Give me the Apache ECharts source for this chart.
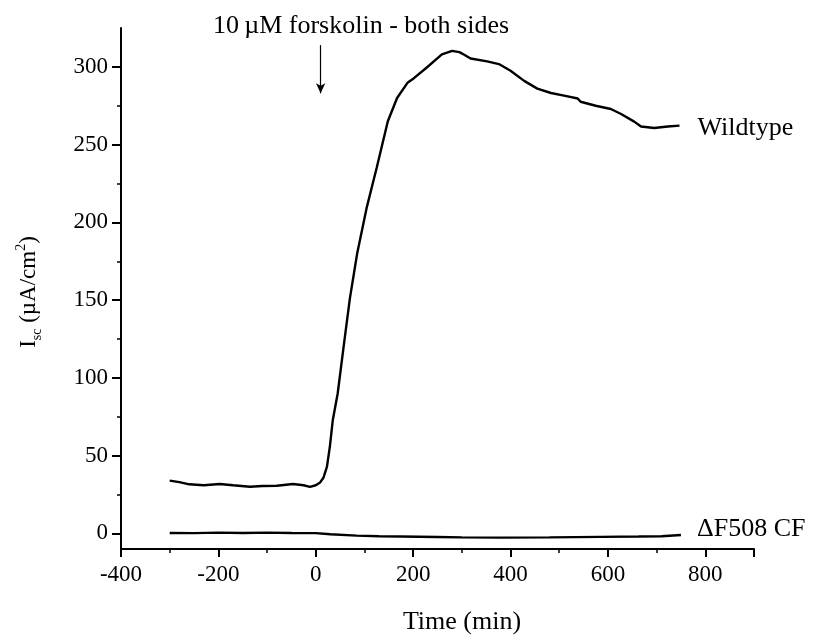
<!DOCTYPE html>
<html>
<head>
<meta charset="utf-8">
<script src="https://cdn.jsdelivr.net/npm/echarts@6/dist/echarts.min.js"></script>
<style>html,body{margin:0;padding:0;background:#fff;}#c{width:814px;height:640px;}</style>
</head>
<body>
<div id="c"></div>
<script>
// Data (time in min, Isc in µA/cm²)
var wildtypeTime = [-300,-280,-260,-230,-197,-170,-135,-110,-80,-47,-25,-12,0,9,16,23,29,35,45,58,70,85,105,125,148,167,189,201,228,259,280,295,304,318,352,376,400,428,455,483,510,538,544,575,606,627,654,668,695,723,747];
var wildtypeIsc  = [34,33,31.6,31,31.8,31,30,30.5,30.7,31.8,31,30,31,32.8,36,43,56,73,90,122,151,180,210,235,265,280,290,292.6,299.6,308,310.3,309.5,308,305.4,303.5,301.8,297.5,291,286,283.2,281.5,279.7,277.6,275,272.9,269.7,264.8,261.7,260.7,261.7,262.2];
var cfTime = [-300,-250,-200,-150,-100,-50,0,30,84,130,174,250,300,380,480,585,663,710,750];
var cfIsc  = [0.3,0.2,0.5,0.3,0.5,0.3,0.2,-0.5,-1.4,-1.8,-2,-2.3,-2.5,-2.7,-2.5,-2.2,-2,-1.8,-1];
var seriesNames = ['Wildtype', '\u0394F508 CF'];
var xTicks = [-400,-200,0,200,400,600,800];
var yTicks = [0,50,100,150,200,250,300];
var yMinorTicks = [25,75,125,175,225,275];
var arrowTime = 10, arrowFrom = 314, arrowTo = 283;
var annotationText = '10\u2009\u00b5M forskolin - both sides';
var xTitle = 'Time (min)';

function zip(a,b){ return a.map(function(v,i){ return [v,b[i]]; }); }

var FONT = '"Liberation Serif", "Times New Roman", serif';
var chart = echarts.init(document.getElementById('c'), null, {renderer:'canvas'});
chart.setOption({
  backgroundColor: '#fff',
  animation: false,
  title: {
    text: annotationText, left: 208, top: 8,
    textStyle: {fontFamily: FONT, fontSize: 26, fontWeight: 'normal', color: '#000'}
  },
  grid: {left: 121, right: 60, top: 28, bottom: 91, containLabel: false},
  xAxis: {
    type: 'value', min: -400, max: 900, interval: 200,
    axisLine: {show: true, onZero: false, lineStyle: {color: '#000', width: 2}},
    axisTick: {show: true, inside: false, length: 8, lineStyle: {color: '#000', width: 2}},
    minorTick: {show: true, splitNumber: 2, length: 4, lineStyle: {color: '#000', width: 1.5}},
    splitLine: {show: false},
    axisLabel: {fontFamily: FONT, fontSize: 23, color: '#000', margin: 14, showMaxLabel: false,
      formatter: function(v){ return xTicks.indexOf(v) >= 0 ? String(v) : ''; }}
  },
  yAxis: [{
    type: 'value', min: -10, max: 325,
    axisLine: {show: true, onZero: false, lineStyle: {color: '#000', width: 2}},
    axisTick: {show: true, inside: false, length: 9, customValues: yTicks, lineStyle: {color: '#000', width: 2}},
    minorTick: {show: false},
    splitLine: {show: false},
    axisLabel: {fontFamily: FONT, fontSize: 23, color: '#000', margin: 13, customValues: yTicks}
  }, {
    type: 'value', min: -10, max: 325, position: 'left',
    axisLine: {show: false, onZero: false},
    axisTick: {show: true, inside: false, length: 4, customValues: yMinorTicks, lineStyle: {color: '#000', width: 1.5}},
    splitLine: {show: false},
    axisLabel: {show: false}
  }],
  graphic: [{
    type: 'text', x: 29, y: 292, rotation: Math.PI/2,
    style: {
      text: '{a|I}{b|sc}{a| (\u00b5A/cm}{c|2}{a|)}',
      align: 'center', verticalAlign: 'middle',
      rich: {
        a: {fontFamily: FONT, fontSize: 23, color: '#000', lineHeight: 30, verticalAlign: 'middle'},
        b: {fontFamily: FONT, fontSize: 14, color: '#000', lineHeight: 16, verticalAlign: 'bottom'},
        c: {fontFamily: FONT, fontSize: 14, color: '#000', lineHeight: 16, verticalAlign: 'top'}
      }
    }
  }, {
    type: 'text', x: 462, y: 622,
    style: {text: xTitle, align: 'center', verticalAlign: 'middle',
      font: '26px ' + FONT, fill: '#000'}
  }],
  series: [{
    name: seriesNames[0], type: 'line', data: zip(wildtypeTime, wildtypeIsc),
    showSymbol: false, symbol: 'none', smooth: false,
    lineStyle: {color: '#000', width: 2.4},
    endLabel: {show: true, formatter: seriesNames[0], distance: 18, offset: [0, 3],
      fontFamily: FONT, fontSize: 26, color: '#000'},
    markLine: {
      silent: true, symbol: ['none', 'arrow'], symbolSize: [7, 10],
      lineStyle: {color: '#000', width: 1.2, type: 'solid'},
      label: {show: false},
      data: [[{coord: [arrowTime, arrowFrom]}, {coord: [arrowTime, arrowTo]}]]
    }
  }, {
    name: seriesNames[1], type: 'line', data: zip(cfTime, cfIsc),
    showSymbol: false, symbol: 'none', smooth: false,
    lineStyle: {color: '#000', width: 2.4},
    endLabel: {show: true, formatter: seriesNames[1], distance: 16, offset: [0, -6],
      fontFamily: FONT, fontSize: 26, color: '#000'}
  }]
});
</script>
</body>
</html>
